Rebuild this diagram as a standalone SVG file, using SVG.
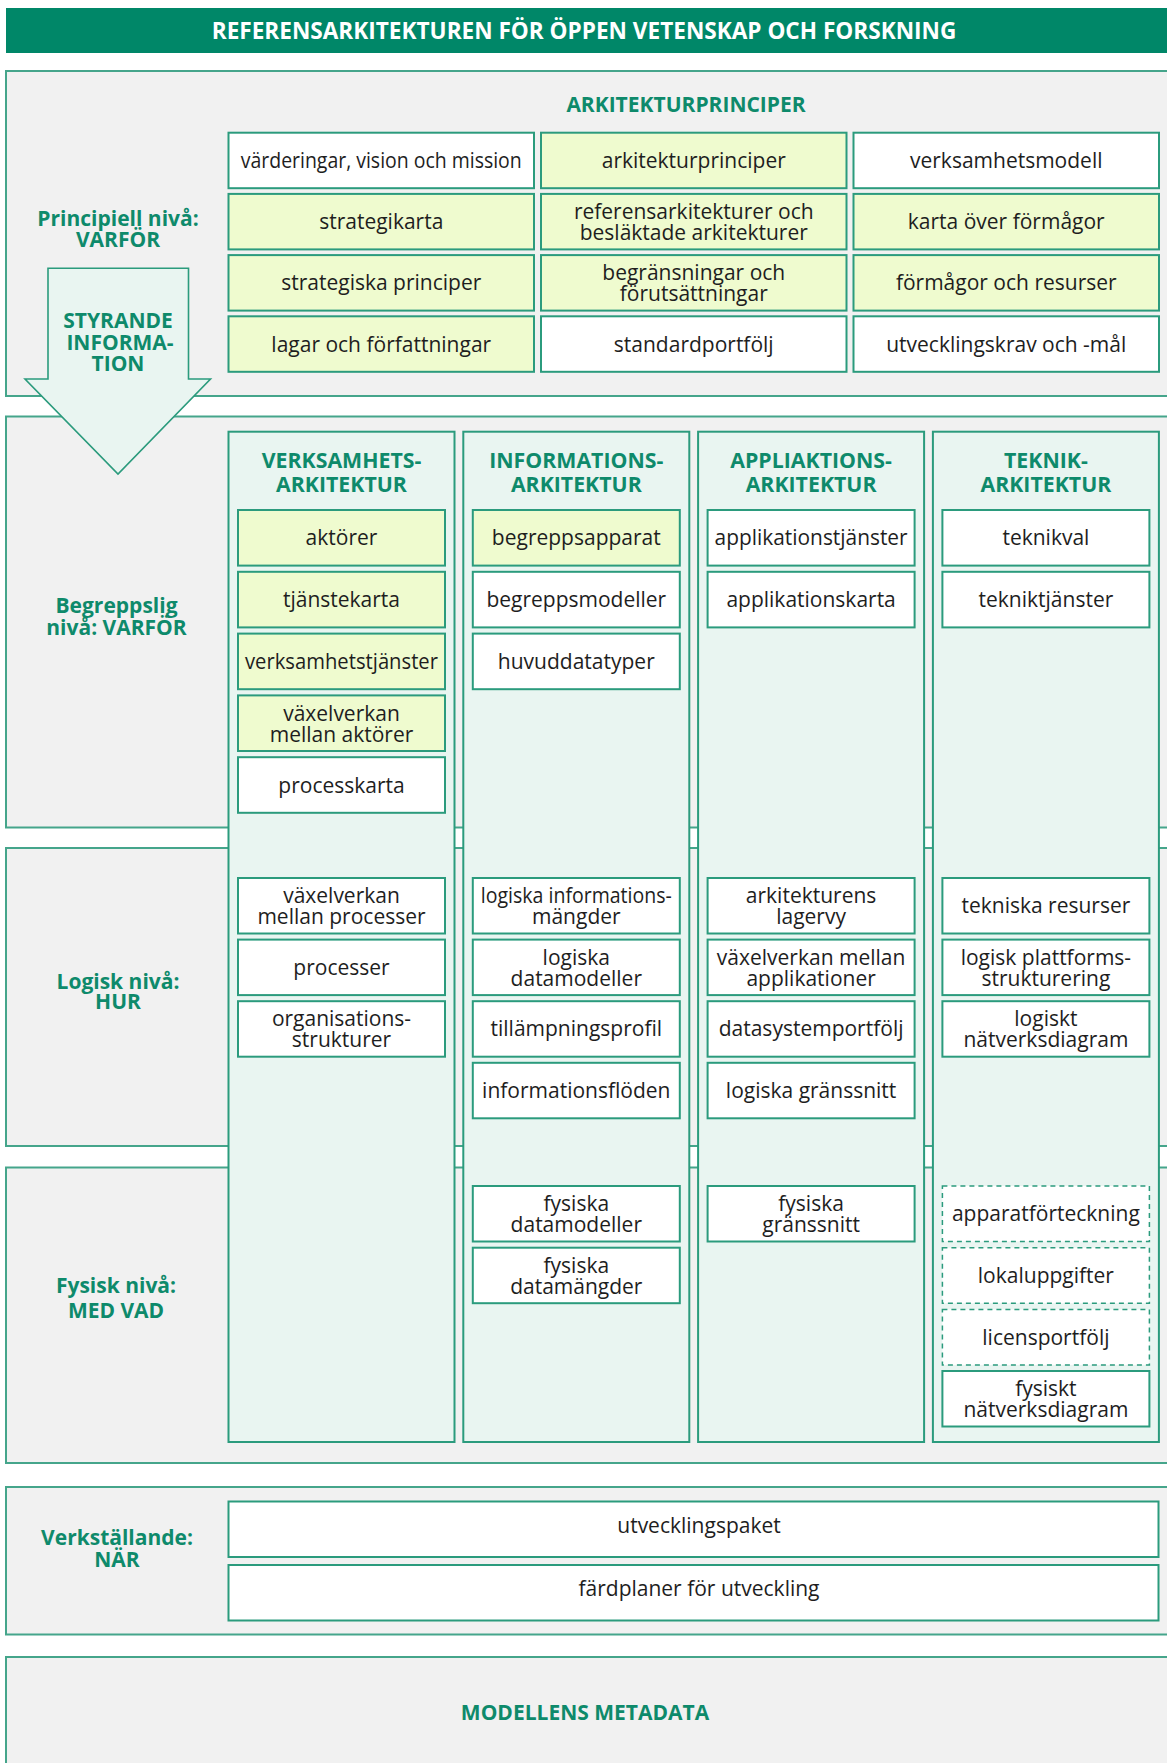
<svg xmlns="http://www.w3.org/2000/svg" width="1167" height="1763" viewBox="0 0 1167 1763">
<style>
.sec{fill:#f1f1f1;stroke:#45a58b;stroke-width:2}
.col{fill:#e9f5f1;stroke:#2b9b7d;stroke-width:2}
.bw{fill:#ffffff;stroke:#2b9b7d;stroke-width:2}
.by{fill:#effbcf;stroke:#2b9b7d;stroke-width:2}
.bd{fill:#ffffff;stroke:#2b9b7d;stroke-width:1.5;stroke-dasharray:5 4}
.t{font-family:"Open Sans","Noto Sans","DejaVu Sans",sans-serif;font-size:21px;fill:#1e1e1e;text-anchor:middle}
.h{font-family:"Open Sans","Noto Sans","DejaVu Sans",sans-serif;font-size:21px;font-weight:700;fill:#0e8a6b;text-anchor:middle}
.ch{font-size:21.3px}
.ttl{font-family:"Open Sans","Noto Sans","DejaVu Sans",sans-serif;font-size:22.6px;font-weight:700;fill:#ffffff;text-anchor:middle}
</style>
<rect width="1167" height="1763" fill="#ffffff"/>

<g id="title">
<rect x="6" y="8" width="1170" height="45" fill="#008768"/>
<text class="ttl" x="584" y="39">REFERENSARKITEKTUREN FÖR ÖPPEN VETENSKAP OCH FORSKNING</text>
</g>

<g id="sections">
<g id="sec-principiell"><rect class="sec" x="6" y="71" width="1175" height="325"/></g>
<g id="sec-begreppslig"><rect class="sec" x="6" y="416.5" width="1175" height="411"/></g>
<g id="sec-logisk"><rect class="sec" x="6" y="848" width="1175" height="298"/></g>
<g id="sec-fysisk"><rect class="sec" x="6" y="1167.5" width="1175" height="295.5"/></g>
<g id="sec-verkstallande"><rect class="sec" x="6" y="1487" width="1175" height="147.5"/></g>
<g id="sec-metadata"><rect class="sec" x="6" y="1657" width="1175" height="120"/>
<text class="h" x="585" y="1719.5">MODELLENS METADATA</text></g>
</g>

<g id="level-labels">
<g id="lbl-principiell"><text class="h" x="118" y="226">Principiell nivå:</text><text class="h" x="118" y="246.5">VARFÖR</text></g>
<g id="lbl-begreppslig"><text class="h" x="116.5" y="613">Begreppslig</text><text class="h" x="116.5" y="635">nivå: VARFÖR</text></g>
<g id="lbl-logisk"><text class="h" x="118" y="988.5">Logisk nivå:</text><text class="h" x="118" y="1009">HUR</text></g>
<g id="lbl-fysisk"><text class="h" x="116" y="1293">Fysisk nivå:</text><text class="h" x="116" y="1317.5">MED VAD</text></g>
<g id="lbl-verkstallande"><text class="h" x="117" y="1545">Verkställande:</text><text class="h" x="117" y="1566.5">NÄR</text></g>
</g>

<g id="connectors">
<g id="styrande-information">
<polygon points="48,268.3 188.5,268.3 188.5,379 210.5,379 118,474 25,379 48,379" fill="#e9f5f1" stroke="#2b9b7d" stroke-width="1.6"/>
<text class="h" x="118" y="328.3">STYRANDE</text>
<text class="h" x="120" y="350">INFORMA-</text>
<text class="h" x="118" y="371">TION</text>
</g>
</g>

<g id="arkitekturprinciper">
<text class="h" x="686" y="112">ARKITEKTURPRINCIPER</text>
<g id="p-varderingar"><rect class="bw" x="228.5" y="132.7" width="305.5" height="55.5"/><text class="t" x="381.25" y="168" textLength="281" lengthAdjust="spacingAndGlyphs">värderingar, vision och mission</text></g>
<g id="p-arkitekturprinciper"><rect class="by" x="541" y="132.7" width="305.5" height="55.5"/><text class="t" x="693.75" y="168">arkitekturprinciper</text></g>
<g id="p-verksamhetsmodell"><rect class="bw" x="853.5" y="132.7" width="305.5" height="55.5"/><text class="t" x="1006.25" y="168">verksamhetsmodell</text></g>

<g id="p-strategikarta"><rect class="by" x="228.5" y="193.9" width="305.5" height="55.5"/><text class="t" x="381.25" y="229.2">strategikarta</text></g>
<g id="p-referensarkitekturer"><rect class="by" x="541" y="193.9" width="305.5" height="55.5"/><text class="t" x="693.75" y="219.2">referensarkitekturer och</text><text class="t" x="693.75" y="240.2">besläktade arkitekturer</text></g>
<g id="p-karta-formagor"><rect class="by" x="853.5" y="193.9" width="305.5" height="55.5"/><text class="t" x="1006.25" y="229.2">karta över förmågor</text></g>

<g id="p-strategiska-principer"><rect class="by" x="228.5" y="255.1" width="305.5" height="55.5"/><text class="t" x="381.25" y="290.4">strategiska principer</text></g>
<g id="p-begransningar"><rect class="by" x="541" y="255.1" width="305.5" height="55.5"/><text class="t" x="693.75" y="280.4">begränsningar och</text><text class="t" x="693.75" y="301.4">förutsättningar</text></g>
<g id="p-formagor-resurser"><rect class="by" x="853.5" y="255.1" width="305.5" height="55.5"/><text class="t" x="1006.25" y="290.4">förmågor och resurser</text></g>

<g id="p-lagar"><rect class="by" x="228.5" y="316.3" width="305.5" height="55.5"/><text class="t" x="381.25" y="351.6">lagar och författningar</text></g>
<g id="p-standardportfolj"><rect class="bw" x="541" y="316.3" width="305.5" height="55.5"/><text class="t" x="693.75" y="351.6">standardportfölj</text></g>
<g id="p-utvecklingskrav"><rect class="bw" x="853.5" y="316.3" width="305.5" height="55.5"/><text class="t" x="1006.25" y="351.6">utvecklingskrav och -mål</text></g>
</g>

<g id="col-verksamhet">
<rect class="col" x="228.5" y="431.7" width="226" height="1010.3"/>
<text class="h ch" x="341.5" y="467.7">VERKSAMHETS-</text><text class="h ch" x="341.5" y="491.7">ARKITEKTUR</text>
<g id="v-aktorer"><rect class="by" x="238" y="510" width="207" height="55.6"/><text class="t" x="341.5" y="545.3">aktörer</text></g>
<g id="v-tjanstekarta"><rect class="by" x="238" y="571.8" width="207" height="55.6"/><text class="t" x="341.5" y="607.1">tjänstekarta</text></g>
<g id="v-verksamhetstjanster"><rect class="by" x="238" y="633.6" width="207" height="55.6"/><text class="t" x="341.5" y="668.9" textLength="193" lengthAdjust="spacingAndGlyphs">verksamhetstjänster</text></g>
<g id="v-vaxelverkan-aktorer"><rect class="by" x="238" y="695.4" width="207" height="55.6"/><text class="t" x="341.5" y="720.7">växelverkan</text><text class="t" x="341.5" y="741.7">mellan aktörer</text></g>
<g id="v-processkarta"><rect class="bw" x="238" y="757.2" width="207" height="55.6"/><text class="t" x="341.5" y="792.5">processkarta</text></g>
<g id="v-vaxelverkan-processer"><rect class="bw" x="238" y="878" width="207" height="55.5"/><text class="t" x="341.5" y="903.25">växelverkan</text><text class="t" x="341.5" y="924.25">mellan processer</text></g>
<g id="v-processer"><rect class="bw" x="238" y="939.6" width="207" height="55.5"/><text class="t" x="341.5" y="974.85">processer</text></g>
<g id="v-organisationsstrukturer"><rect class="bw" x="238" y="1001.2" width="207" height="55.5"/><text class="t" x="341.5" y="1026.45">organisations-</text><text class="t" x="341.5" y="1047.45">strukturer</text></g>
</g>

<g id="col-information">
<rect class="col" x="463.3" y="431.7" width="226" height="1010.3"/>
<text class="h ch" x="576.3" y="467.7">INFORMATIONS-</text><text class="h ch" x="576.3" y="491.7">ARKITEKTUR</text>
<g id="i-begreppsapparat"><rect class="by" x="472.8" y="510" width="207" height="55.6"/><text class="t" x="576.3" y="545.3">begreppsapparat</text></g>
<g id="i-begreppsmodeller"><rect class="bw" x="472.8" y="571.8" width="207" height="55.6"/><text class="t" x="576.3" y="607.1">begreppsmodeller</text></g>
<g id="i-huvuddatatyper"><rect class="bw" x="472.8" y="633.6" width="207" height="55.6"/><text class="t" x="576.3" y="668.9">huvuddatatyper</text></g>
<g id="i-logiska-informationsmangder"><rect class="bw" x="472.8" y="878" width="207" height="55.5"/><text class="t" x="576.3" y="903.25" textLength="191" lengthAdjust="spacingAndGlyphs">logiska informations-</text><text class="t" x="576.3" y="924.25">mängder</text></g>
<g id="i-logiska-datamodeller"><rect class="bw" x="472.8" y="939.6" width="207" height="55.5"/><text class="t" x="576.3" y="964.85">logiska</text><text class="t" x="576.3" y="985.85">datamodeller</text></g>
<g id="i-tillampningsprofil"><rect class="bw" x="472.8" y="1001.2" width="207" height="55.5"/><text class="t" x="576.3" y="1036.45">tillämpningsprofil</text></g>
<g id="i-informationsfloden"><rect class="bw" x="472.8" y="1062.8" width="207" height="55.5"/><text class="t" x="576.3" y="1098.05">informationsflöden</text></g>
<g id="i-fysiska-datamodeller"><rect class="bw" x="472.8" y="1186" width="207" height="55.5"/><text class="t" x="576.3" y="1211.25">fysiska</text><text class="t" x="576.3" y="1232.25">datamodeller</text></g>
<g id="i-fysiska-datamangder"><rect class="bw" x="472.8" y="1247.7" width="207" height="55.5"/><text class="t" x="576.3" y="1272.95">fysiska</text><text class="t" x="576.3" y="1293.95">datamängder</text></g>
</g>

<g id="col-applikation">
<rect class="col" x="698.1" y="431.7" width="226" height="1010.3"/>
<text class="h ch" x="811.1" y="467.7">APPLIAKTIONS-</text><text class="h ch" x="811.1" y="491.7">ARKITEKTUR</text>
<g id="a-applikationstjanster"><rect class="bw" x="707.6" y="510" width="207" height="55.6"/><text class="t" x="811.1" y="545.3" textLength="193" lengthAdjust="spacingAndGlyphs">applikationstjänster</text></g>
<g id="a-applikationskarta"><rect class="bw" x="707.6" y="571.8" width="207" height="55.6"/><text class="t" x="811.1" y="607.1">applikationskarta</text></g>
<g id="a-lagervy"><rect class="bw" x="707.6" y="878" width="207" height="55.5"/><text class="t" x="811.1" y="903.25">arkitekturens</text><text class="t" x="811.1" y="924.25">lagervy</text></g>
<g id="a-vaxelverkan-applikationer"><rect class="bw" x="707.6" y="939.6" width="207" height="55.5"/><text class="t" x="811.1" y="964.85">växelverkan mellan</text><text class="t" x="811.1" y="985.85">applikationer</text></g>
<g id="a-datasystemportfolj"><rect class="bw" x="707.6" y="1001.2" width="207" height="55.5"/><text class="t" x="811.1" y="1036.45">datasystemportfölj</text></g>
<g id="a-logiska-granssnitt"><rect class="bw" x="707.6" y="1062.8" width="207" height="55.5"/><text class="t" x="811.1" y="1098.05">logiska gränssnitt</text></g>
<g id="a-fysiska-granssnitt"><rect class="bw" x="707.6" y="1186" width="207" height="55.5"/><text class="t" x="811.1" y="1211.25">fysiska</text><text class="t" x="811.1" y="1232.25">gränssnitt</text></g>
</g>

<g id="col-teknik">
<rect class="col" x="932.9" y="431.7" width="226" height="1010.3"/>
<text class="h ch" x="1045.9" y="467.7">TEKNIK-</text><text class="h ch" x="1045.9" y="491.7">ARKITEKTUR</text>
<g id="t-teknikval"><rect class="bw" x="942.4" y="510" width="207" height="55.6"/><text class="t" x="1045.9" y="545.3">teknikval</text></g>
<g id="t-teknikjanster"><rect class="bw" x="942.4" y="571.8" width="207" height="55.6"/><text class="t" x="1045.9" y="607.1">tekniktjänster</text></g>
<g id="t-tekniska-resurser"><rect class="bw" x="942.4" y="878" width="207" height="55.5"/><text class="t" x="1045.9" y="913.25">tekniska resurser</text></g>
<g id="t-plattformsstrukturering"><rect class="bw" x="942.4" y="939.6" width="207" height="55.5"/><text class="t" x="1045.9" y="964.85">logisk plattforms-</text><text class="t" x="1045.9" y="985.85">strukturering</text></g>
<g id="t-logiskt-natverksdiagram"><rect class="bw" x="942.4" y="1001.2" width="207" height="55.5"/><text class="t" x="1045.9" y="1026.45">logiskt</text><text class="t" x="1045.9" y="1047.45">nätverksdiagram</text></g>
<g id="t-apparatforteckning"><rect class="bd" x="942.4" y="1186" width="207" height="55.5"/><text class="t" x="1045.9" y="1221.25">apparatförteckning</text></g>
<g id="t-lokaluppgifter"><rect class="bd" x="942.4" y="1247.7" width="207" height="55.5"/><text class="t" x="1045.9" y="1282.95">lokaluppgifter</text></g>
<g id="t-licensportfolj"><rect class="bd" x="942.4" y="1309.4" width="207" height="55.5"/><text class="t" x="1045.9" y="1344.65">licensportfölj</text></g>
<g id="t-fysiskt-natverksdiagram"><rect class="bw" x="942.4" y="1371" width="207" height="55.5"/><text class="t" x="1045.9" y="1396.25">fysiskt</text><text class="t" x="1045.9" y="1417.25">nätverksdiagram</text></g>
</g>

<g id="verkstallande">
<g id="e-utvecklingspaket"><rect class="bw" x="228.5" y="1501.5" width="930" height="55.5"/><text class="t" x="699" y="1532.5">utvecklingspaket</text></g>
<g id="e-fardplaner"><rect class="bw" x="228.5" y="1565" width="930" height="55.5"/><text class="t" x="699" y="1596">färdplaner för utveckling</text></g>
</g>
</svg>
